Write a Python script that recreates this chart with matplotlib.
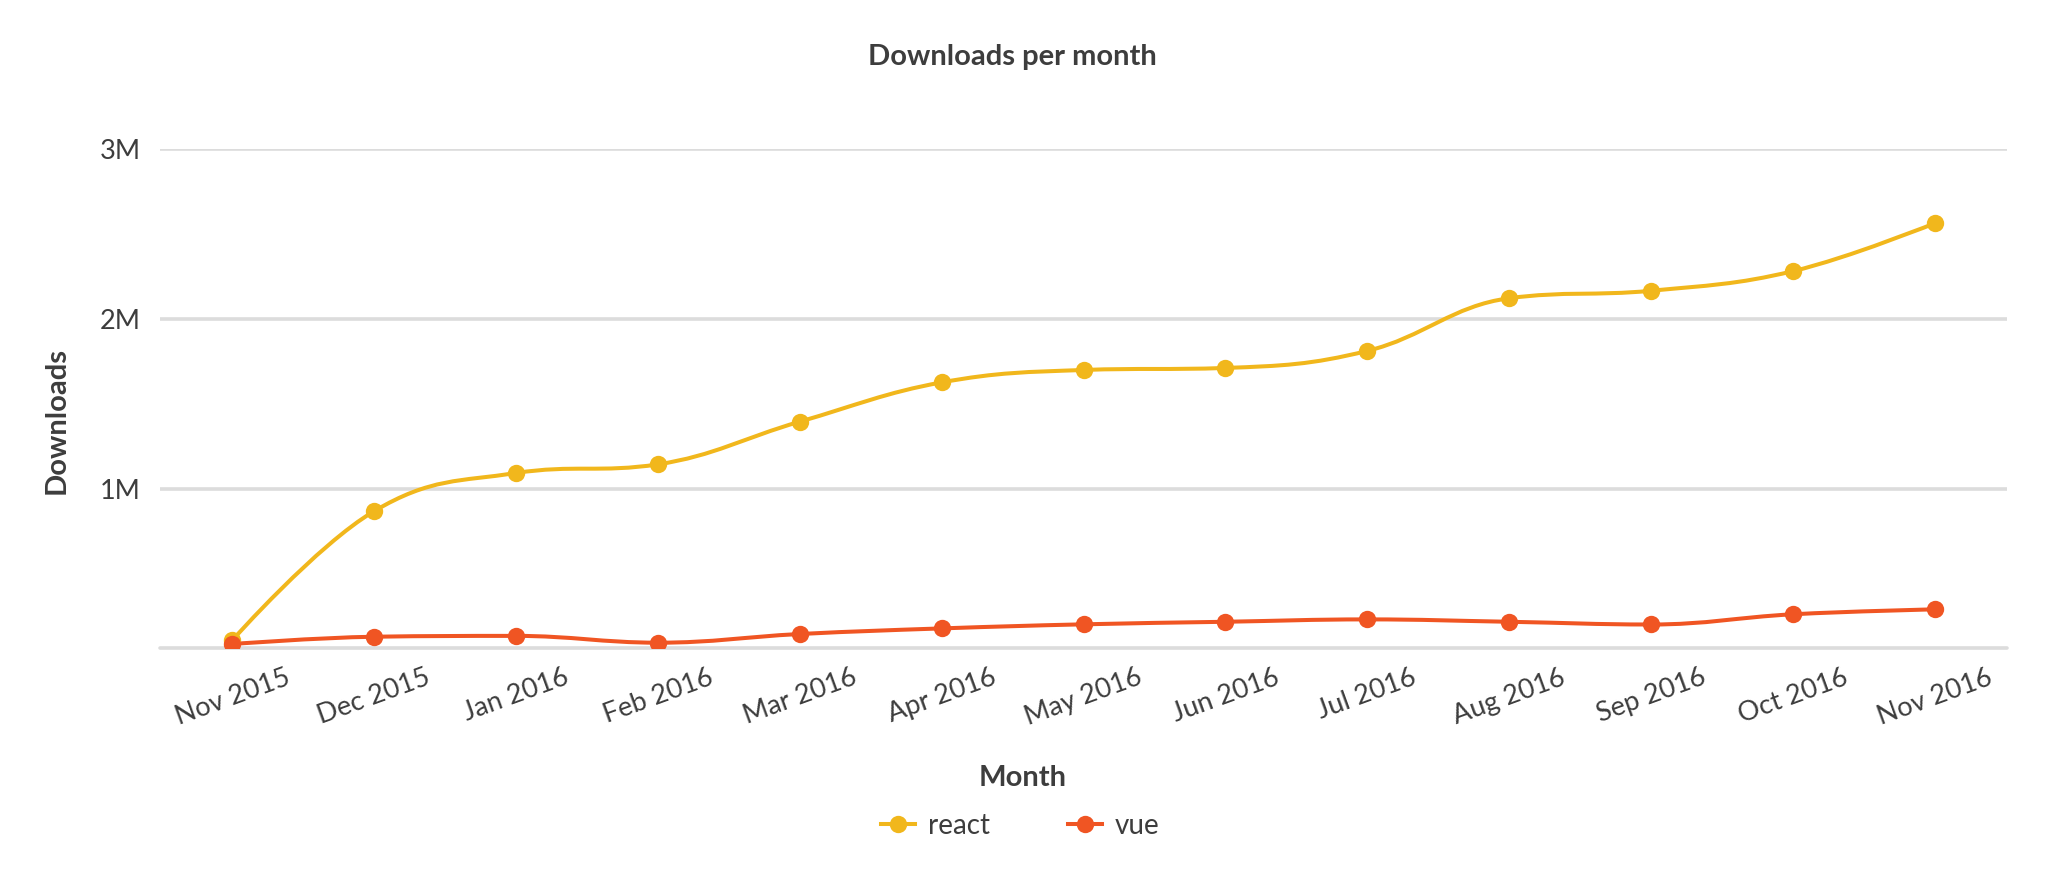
import numpy as np
import matplotlib.pyplot as plt
from matplotlib.path import Path
from matplotlib.patches import PathPatch
from matplotlib.lines import Line2D
from matplotlib.ticker import FuncFormatter

plt.rcParams['font.family'] = ['Lato', 'DejaVu Sans']

# data
months = ['Nov 2015', 'Dec 2015', 'Jan 2016', 'Feb 2016', 'Mar 2016', 'Apr 2016',
          'May 2016', 'Jun 2016', 'Jul 2016', 'Aug 2016', 'Sep 2016', 'Oct 2016', 'Nov 2016']
react = [113000, 872000, 1096000, 1147000, 1398000, 1629000, 1702000,
         1714000, 1814000, 2124000, 2168000, 2283000, 2565000]
vue = [90000, 133000, 138000, 98000, 149000, 182000, 206000,
       221000, 235000, 221000, 205000, 265000, 294000]

react_color = '#f1b71c'
vue_color = '#f05523'
text_color = '#3d3d3d'
grid_color = '#dcdcdc'
lw = 2.9
ms = 12.5


def spline_path(xs, ys, smoothing=1.5):
    # same control-point rule as highcharts' "spline" series
    n = len(xs)
    denom = smoothing + 1
    left = [(xs[i], ys[i]) for i in range(n)]
    right = [(xs[i], ys[i]) for i in range(n)]
    for i in range(1, n - 1):
        px, py = xs[i], ys[i]
        lx, ly = xs[i - 1], ys[i - 1]
        nx, ny = xs[i + 1], ys[i + 1]
        lcx = (smoothing * px + lx) / denom
        lcy = (smoothing * py + ly) / denom
        rcx = (smoothing * px + nx) / denom
        rcy = (smoothing * py + ny) / denom
        corr = 0
        if rcx != lcx:
            corr = (rcy - lcy) * (rcx - px) / (rcx - lcx) + py - rcy
        lcy += corr
        rcy += corr
        if lcy > ly and lcy > py:
            lcy = max(ly, py)
            rcy = 2 * py - lcy
        elif lcy < ly and lcy < py:
            lcy = min(ly, py)
            rcy = 2 * py - lcy
        if rcy > ny and rcy > py:
            rcy = max(ny, py)
            lcy = 2 * py - rcy
        elif rcy < ny and rcy < py:
            rcy = min(ny, py)
            lcy = 2 * py - rcy
        left[i] = (lcx, lcy)
        right[i] = (rcx, rcy)
    verts = [(xs[0], ys[0])]
    codes = [Path.MOVETO]
    for i in range(1, n):
        verts += [right[i - 1], left[i], (xs[i], ys[i])]
        codes += [Path.CURVE4] * 3
    return Path(verts, codes)


fig = plt.figure(figsize=(20.48, 8.76), dpi=100)
ax = fig.add_axes([160 / 2048, 1 - 648.3 / 876, (2007 - 160) / 2048, (648.3 - 149.3) / 876])

x = np.arange(len(months))
for vals, col in [(react, react_color), (vue, vue_color)]:
    patch = PathPatch(spline_path(list(x), vals), fill=False, edgecolor=col,
                      linewidth=lw, capstyle='round', joinstyle='round', zorder=3)
    ax.add_patch(patch)
    ax.plot(x, vals, 'o', color=col, markersize=ms, markeredgewidth=0, zorder=4)

ax.set_xlim(-0.51, 12.51)
ax.set_ylim(65000, 3000000)
ax.set_yticks([1000000, 2000000, 3000000])
ax.yaxis.set_major_formatter(FuncFormatter(lambda v, p: f'{v / 1e6:.0f}M'))
ax.set_xticks(x)
ax.set_xticklabels(months, rotation=20, ha='center')
ax.tick_params(axis='both', length=0, labelsize=19.5, labelcolor=text_color)
ax.tick_params(axis='x', pad=12)
ax.tick_params(axis='y', pad=14)
ax.grid(axis='y', color=grid_color, linewidth=2.6, solid_capstyle='round')
ax.set_axisbelow(True)
for s in ['top', 'left', 'right']:
    ax.spines[s].set_visible(False)
ax.spines['bottom'].set_color(grid_color)
ax.spines['bottom'].set_linewidth(2.6)
ax.spines['bottom'].set_capstyle('round')

fig.text(1012 / 2048, 1 - 57 / 876, 'Downloads per month', ha='center', va='center',
         fontsize=21, fontweight='bold', color=text_color)
fig.text(1023 / 2048, 1 - 778 / 876, 'Month', ha='center', va='center',
         fontsize=21, fontweight='bold', color=text_color)
fig.text(57 / 2048, 1 - 421 / 876, 'Downloads', ha='center', va='center', rotation=90,
         fontsize=21, fontweight='bold', color=text_color)

handles = [Line2D([], [], color=react_color, lw=lw, marker='o', markersize=ms, markeredgewidth=0),
           Line2D([], [], color=vue_color, lw=lw, marker='o', markersize=ms, markeredgewidth=0)]
fig.legend(handles, ['react', 'vue'], loc='center', bbox_to_anchor=(1020 / 2048, 1 - 826 / 876),
           ncol=2, frameon=False, fontsize=20, labelcolor=text_color,
           handlelength=1.25, handletextpad=0.45, columnspacing=2.8)

fig.savefig('out.png', dpi=100)
